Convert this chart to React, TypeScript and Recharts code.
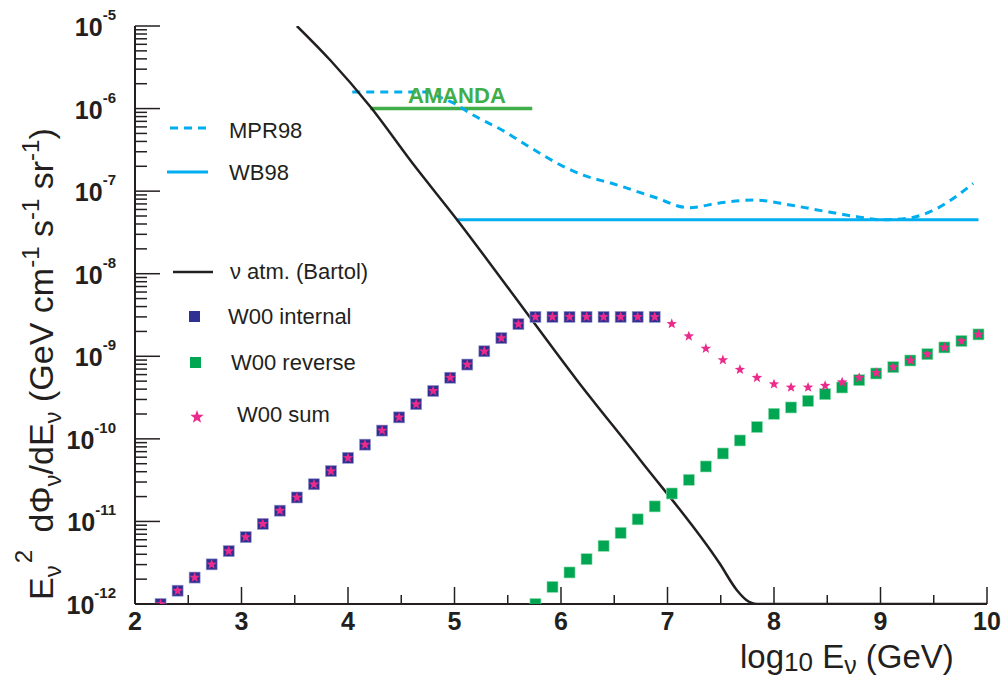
import React from "react";
import {
  ComposedChart,
  Line,
  Scatter,
  XAxis,
  YAxis,
} from "recharts";

// log10 E (GeV) grid of the W00 points
const logE = [
  2.24, 2.4, 2.56, 2.72, 2.88, 3.04, 3.2, 3.36, 3.52, 3.68, 3.84, 4.0, 4.16,
  4.32, 4.48, 4.64, 4.8, 4.96, 5.12, 5.28, 5.44, 5.6, 5.76, 5.92, 6.08, 6.24,
  6.4, 6.56, 6.72, 6.88, 7.04, 7.2, 7.36, 7.52, 7.68, 7.84, 8.0, 8.16, 8.32,
  8.48, 8.64, 8.8, 8.96, 9.12, 9.28, 9.44, 9.6, 9.76, 9.92,
];

const w00Internal = [
  1.0e-12, 1.45e-12, 2.09e-12, 3.02e-12, 4.37e-12, 6.46e-12, 9.33e-12,
  1.35e-11, 1.95e-11, 2.82e-11, 4.07e-11, 5.89e-11, 8.51e-11, 1.26e-10,
  1.82e-10, 2.63e-10, 3.8e-10, 5.5e-10, 7.94e-10, 1.15e-9, 1.66e-9, 2.45e-9,
  3.0e-9, 3.0e-9, 3.0e-9, 3.0e-9, 3.0e-9, 3.0e-9, 3.0e-9, 3.0e-9,
];

const w00Reverse = [
  null, null, null, null, null, null, null, null, null, null, null, null,
  null, null, null, null, null, null, null, null, null, null,
  1.0e-12, 1.61e-12, 2.41e-12, 3.49e-12, 5.06e-12, 7.27e-12, 1.06e-11,
  1.52e-11, 2.18e-11, 3.19e-11, 4.63e-11, 6.65e-11, 9.56e-11, 1.39e-10,
  2.01e-10, 2.4e-10, 2.88e-10, 3.48e-10, 4.19e-10, 5.14e-10, 6.19e-10,
  7.38e-10, 8.89e-10, 1.06e-9, 1.28e-9, 1.53e-9, 1.84e-9,
];

const w00Sum = [
  1.0e-12, 1.45e-12, 2.09e-12, 3.02e-12, 4.37e-12, 6.46e-12, 9.33e-12,
  1.35e-11, 1.95e-11, 2.82e-11, 4.07e-11, 5.89e-11, 8.51e-11, 1.26e-10,
  1.82e-10, 2.63e-10, 3.8e-10, 5.5e-10, 7.94e-10, 1.15e-9, 1.66e-9, 2.45e-9,
  3.0e-9, 3.0e-9, 3.0e-9, 3.0e-9, 3.0e-9, 3.0e-9, 3.0e-9, 3.0e-9,
  2.47e-9, 1.75e-9, 1.24e-9, 9.0e-10, 6.9e-10, 5.5e-10, 4.6e-10, 4.2e-10,
  4.2e-10, 4.4e-10, 4.85e-10, 5.5e-10, 6.3e-10, 7.4e-10, 8.9e-10, 1.06e-9,
  1.28e-9, 1.53e-9, 1.84e-9,
];

// atmospheric nu (Bartol)
const atmX = [3.52, 3.83, 4.21, 4.61, 5.02, 5.52, 6.15, 6.74, 7.49, 7.65, 7.74, 7.84, 10.0];
const atmY = [
  1.0e-5, 3.9e-6, 1.05e-6, 2.14e-7, 4.57e-8, 6.31e-9, 5.13e-10, 5.62e-11,
  3.09e-12, 1.48e-12, 1.12e-12, 1.0e-12, 1.0e-12,
];

// MPR98 bound
const mprX = [
  4.04, 4.75, 4.86, 4.99, 5.15, 5.46, 5.71, 6.02, 6.21, 6.49, 6.87, 7.2, 7.49,
  7.82, 8.15, 8.46, 8.78, 9.0, 9.28, 9.5, 9.87,
];
const mprY = [
  1.59e-6, 1.59e-6, 1.38e-6, 1.17e-6, 8.7e-7, 5.37e-7, 3.39e-7, 2.0e-7,
  1.56e-7, 1.23e-7, 8.5e-8, 6.3e-8, 7.2e-8, 7.8e-8, 6.8e-8, 5.75e-8, 4.9e-8,
  4.5e-8, 4.75e-8, 5.9e-8, 1.24e-7,
];

// WB98 bound
const wbX = [5.02, 9.92];
const wbY = [4.5e-8, 4.5e-8];

// AMANDA limit
const amandaX = [4.21, 5.73];
const amandaY = [1.0e-6, 1.0e-6];

const xTicks = [2, 2.5, 3, 3.5, 4, 4.5, 5, 5.5, 6, 6.5, 7, 7.5, 8, 8.5, 9, 9.5, 10];
const yDecades = [-12, -11, -10, -9, -8, -7, -6, -5];

const BLACK = "#231f20";
const CYAN = "#00aeef";
const AMANDA_GREEN = "#3fae49";
const BLUE = "#2e3192";
const GREEN = "#00a651";
const PINK = "#ec2a8c";
const FONT = "'Liberation Sans', Arial, Helvetica, sans-serif";

const pts = (xs: number[], ys: (number | null)[]) =>
  xs
    .map((x, i) => ({ x, y: ys[i] }))
    .filter((p) => p.y !== null && p.y !== undefined);

const yTicks: number[] = [];
yDecades.forEach((e) => {
  const steps = e === -5 ? [1] : [1, 2, 3, 4, 5, 6, 7, 8, 9];
  steps.forEach((m) => yTicks.push(m * Math.pow(10, e)));
});

function starPath(cx: number, cy: number, R: number, r: number) {
  let d = "";
  for (let i = 0; i < 10; i++) {
    const rad = i % 2 === 0 ? R : r;
    const a = -Math.PI / 2 + (i * Math.PI) / 5;
    d += (i === 0 ? "M" : "L") + (cx + rad * Math.cos(a)).toFixed(2) + "," + (cy + rad * Math.sin(a)).toFixed(2);
  }
  return d + "Z";
}

const BlueSquare = (p: any) => (
  <rect x={p.cx - 5.5} y={p.cy - 5.5} width={11} height={11} fill={BLUE} stroke="#9a9cd0" strokeWidth={0.6} />
);
const GreenSquare = (p: any) => (
  <rect x={p.cx - 5.5} y={p.cy - 5.5} width={11} height={11} fill={GREEN} stroke="#8fdcae" strokeWidth={0.6} />
);
const PinkStar = (p: any) => <path d={starPath(p.cx, p.cy, 5.5, 2.3)} fill={PINK} />;

const YTick = (props: any) => {
  const { x, y, payload } = props;
  const lg = Math.log10(payload.value);
  const e = Math.round(lg);
  const major = Math.abs(lg - e) < 1e-6;
  return (
    <g>
      <line x1={x} x2={x + (major ? 25 : 12)} y1={y} y2={y} stroke={BLACK} strokeWidth={1.5} />
      {major && (
        <text x={x - 19} y={y + 10} textAnchor="end" fontFamily={FONT} fontWeight="bold" fill={BLACK}>
          <tspan fontSize={25}>10</tspan>
          <tspan fontSize={15} dy={-16}>{String(e)}</tspan>
        </text>
      )}
    </g>
  );
};

const XTick = (props: any) => {
  const { x, y, payload } = props;
  const v = payload.value;
  const major = Number.isInteger(v);
  return (
    <g>
      <line x1={x} x2={x} y1={y} y2={y - (major ? 17 : 9)} stroke={BLACK} strokeWidth={1.5} />
      {major && (
        <text x={x} y={y + 26} textAnchor="middle" fontFamily={FONT} fontWeight="bold" fontSize={25} fill={BLACK}>
          {v}
        </text>
      )}
    </g>
  );
};

export default function App() {
  return (
    <div style={{ position: "absolute", left: 0, top: 0, width: 1002, height: 678, background: "#fff" }}>
      <ComposedChart width={1002} height={678} margin={{ top: 26, right: 15, bottom: 0, left: 0 }}>
        <XAxis
          dataKey="x"
          type="number"
          domain={[2, 10]}
          ticks={xTicks}
          interval={0}
          allowDataOverflow
          height={74}
          tickSize={0}
          tickMargin={0}
          tickLine={false}
          tick={<XTick />}
          axisLine={{ stroke: BLACK, strokeWidth: 2 }}
        />
        <XAxis
          xAxisId="top"
          orientation="top"
          type="number"
          domain={[2, 10]}
          height={0}
          tick={false}
          tickLine={false}
          axisLine={{ stroke: BLACK, strokeWidth: 1.5 }}
        />
        <YAxis
          dataKey="y"
          type="number"
          scale="log"
          domain={[1e-12, 1e-5]}
          ticks={yTicks}
          interval={0}
          allowDataOverflow
          width={135}
          tickSize={0}
          tickMargin={0}
          tickLine={false}
          tick={<YTick />}
          axisLine={{ stroke: BLACK, strokeWidth: 2 }}
        />
        <YAxis
          yAxisId="right"
          orientation="right"
          type="number"
          domain={[0, 1]}
          width={0}
          tick={false}
          tickLine={false}
          axisLine={{ stroke: "#555", strokeWidth: 1.8 }}
        />
        <Line data={pts(amandaX, amandaY)} dataKey="y" type="linear" stroke={AMANDA_GREEN} strokeWidth={3.5} dot={false} isAnimationActive={false} />
        <Line data={pts(mprX, mprY)} dataKey="y" type="monotone" stroke={CYAN} strokeWidth={3} strokeDasharray="8 6" dot={false} isAnimationActive={false} />
        <Line data={pts(wbX, wbY)} dataKey="y" type="linear" stroke={CYAN} strokeWidth={3} dot={false} isAnimationActive={false} />
        <Line data={pts(atmX, atmY)} dataKey="y" type="monotone" stroke={BLACK} strokeWidth={2.5} dot={false} isAnimationActive={false} />
        <Scatter data={pts(logE, w00Internal)} dataKey="y" shape={BlueSquare} isAnimationActive={false} />
        <Scatter data={pts(logE, w00Reverse)} dataKey="y" shape={GreenSquare} isAnimationActive={false} />
        <Scatter data={pts(logE, w00Sum)} dataKey="y" shape={PinkStar} isAnimationActive={false} />
      </ComposedChart>

      {/* titles, legend and the AMANDA label */}
      <svg width={1002} height={678} style={{ position: "absolute", left: 0, top: 0, pointerEvents: "none" }}>
        <g fontFamily={FONT} fill={BLACK}>
          <text transform="translate(53,600) rotate(-90)" fontSize={34} style={{ whiteSpace: "pre" }}>
            <tspan>E</tspan>
            <tspan fontSize={24} dy={8}>ν</tspan>
            <tspan fontSize={24} dy={-29} dx={2}>2</tspan>
            <tspan dy={21} dx={8}>{" dΦ"}</tspan>
            <tspan fontSize={24} dy={8}>ν</tspan>
            <tspan dy={-8}>/dE</tspan>
            <tspan fontSize={24} dy={8}>ν</tspan>
            <tspan dy={-8}>{" (GeV cm"}</tspan>
            <tspan fontSize={24} dy={-14}>-1</tspan>
            <tspan dy={14}>{" s"}</tspan>
            <tspan fontSize={24} dy={-14}>-1</tspan>
            <tspan dy={14}>{" sr"}</tspan>
            <tspan fontSize={24} dy={-14}>-1</tspan>
            <tspan dy={14}>)</tspan>
          </text>

          <text x={740} y={668} fontSize={33} style={{ whiteSpace: "pre" }}>
            <tspan>log</tspan>
            <tspan fontSize={26} dy={3}>10</tspan>
            <tspan dy={-3}>{" E"}</tspan>
            <tspan fontSize={25} dy={6}>ν</tspan>
            <tspan dy={-6}>{" (GeV)"}</tspan>
          </text>

          <text x={408} y={103} fontSize={22} fontWeight="bold" fill={AMANDA_GREEN}>AMANDA</text>

          {/* legend */}
          <line x1={170} x2={208} y1={128} y2={128} stroke={CYAN} strokeWidth={3} strokeDasharray="8 6" />
          <text x={229} y={138} fontSize={22}>MPR98</text>
          <line x1={167} x2={208} y1={172} y2={172} stroke={CYAN} strokeWidth={3} />
          <text x={229} y={180} fontSize={22}>WB98</text>
          <line x1={173} x2={213} y1={272} y2={272} stroke={BLACK} strokeWidth={2.5} />
          <text x={230} y={279} fontSize={22}>ν atm. (Bartol)</text>
          <rect x={189} y={311} width={11} height={11} fill={BLUE} />
          <text x={228} y={324} fontSize={22}>W00 internal</text>
          <rect x={190} y={357} width={11} height={11} fill={GREEN} />
          <text x={231} y={370} fontSize={22}>W00 reverse</text>
          <path d={starPath(197, 417, 7, 2.9)} fill={PINK} />
          <text x={237} y={422} fontSize={22}>W00 sum</text>
        </g>
      </svg>
    </div>
  );
}
